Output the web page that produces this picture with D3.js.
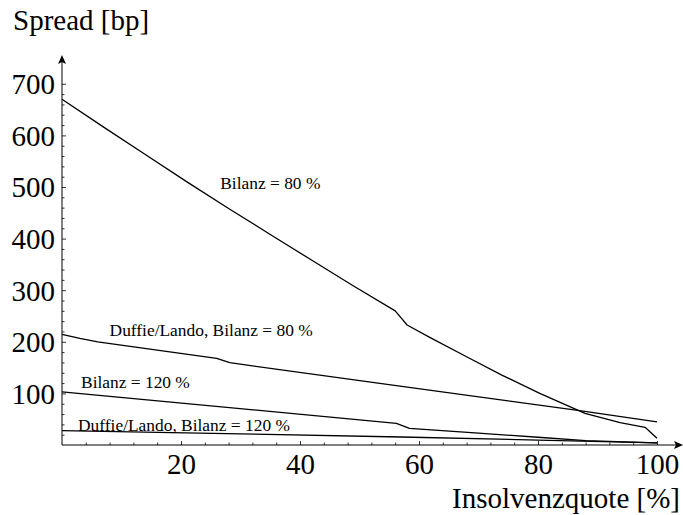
<!DOCTYPE html>
<html>
<head>
<meta charset="utf-8">
<script src="https://cdn.jsdelivr.net/npm/d3@7"></script>
<style>
  html, body { margin: 0; padding: 0; background: #fff; }
  svg { display: block; }
  text { font-family: "Liberation Serif", "Times New Roman", "DejaVu Serif", serif; fill: #000; }
</style>
</head>
<body>
<svg id="chart" width="683" height="515"></svg>
<script>
// Insolvency ratio (x, %) and spread (y, bp) for each curve
const bilanz80X = [0, 7, 14, 21, 28.2, 35, 42, 49, 56, 58, 61.8, 68, 74, 80.3, 87.9, 93.8, 98, 100];
const bilanz80Y = [670, 616, 563, 510, 457, 408, 358, 308, 260, 232.6, 208.7, 171, 135, 100, 61.4, 43.3, 34.2, 13];

const duffie80X = [0, 3, 6, 26, 28.2, 56.8, 87, 100];
const duffie80Y = [214.5, 206.5, 200, 168, 159.5, 114, 66.5, 45];

const bilanz120X = [0, 56.2, 58.4, 70, 80, 88, 100];
const bilanz120Y = [103, 42, 32.4, 23, 15, 8.5, 4];

const duffie120X = [0, 30, 57, 80, 100];
const duffie120Y = [28, 21.5, 15.5, 9.5, 4];

const xTickValues = [20, 40, 60, 80, 100];
const yTickValues = [100, 200, 300, 400, 500, 600, 700];

const seriesLabels = ["Bilanz = 80 %", "Duffie/Lando, Bilanz = 80 %", "Bilanz = 120 %", "Duffie/Lando, Bilanz = 120 %"];
const xTitle = "Insolvenzquote [%]";
const yTitle = "Spread [bp]";

const svg = d3.select("#chart");

const x = d3.scaleLinear().domain([0, 100]).range([62, 657]);
const y = d3.scaleLinear().domain([0, 700]).range([445, 83.8]);

const series = [
  { xs: bilanz80X, ys: bilanz80Y, label: seriesLabels[0], lx: 26.6, ly: 497 },
  { xs: duffie80X, ys: duffie80Y, label: seriesLabels[1], lx: 8.0, ly: 212 },
  { xs: bilanz120X, ys: bilanz120Y, label: seriesLabels[2], lx: 3.2, ly: 110 },
  { xs: duffie120X, ys: duffie120Y, label: seriesLabels[3], lx: 2.7, ly: 27 }
];

const serif = "'Liberation Serif', 'Times New Roman', serif";

// Minor ticks (drawn first so majors sit on top)
const xMinor = d3.range(4, 100, 4).filter(v => v % 20 !== 0);
const yMinor = d3.range(20, 700, 20).filter(v => v % 100 !== 0);

svg.append("g")
  .attr("transform", `translate(0,${y(0)})`)
  .call(d3.axisBottom(x).tickValues(xMinor).tickSize(-2.5).tickFormat(""))
  .call(g => g.select(".domain").remove())
  .call(g => g.selectAll("line").attr("stroke", "#000").attr("stroke-width", 0.8));

svg.append("g")
  .attr("transform", `translate(${x(0)},0)`)
  .call(d3.axisLeft(y).tickValues(yMinor).tickSize(-2.5).tickFormat(""))
  .call(g => g.select(".domain").remove())
  .call(g => g.selectAll("line").attr("stroke", "#000").attr("stroke-width", 0.8));

// Major ticks with labels
svg.append("g")
  .attr("transform", `translate(0,${y(0)})`)
  .call(d3.axisBottom(x).tickValues(xTickValues).tickSize(-4).tickPadding(8).tickFormat(d3.format("d")))
  .call(g => g.select(".domain").remove())
  .call(g => g.selectAll("line").attr("stroke", "#000").attr("stroke-width", 0.8))
  .call(g => g.selectAll("text")
    .attr("font-family", serif)
    .attr("font-size", 29).attr("fill", "#000").attr("dy", "0.71em"));

svg.append("g")
  .attr("transform", `translate(${x(0)},0)`)
  .call(d3.axisLeft(y).tickValues(yTickValues).tickSize(-4).tickPadding(7).tickFormat(d3.format("d")))
  .call(g => g.select(".domain").remove())
  .call(g => g.selectAll("line").attr("stroke", "#000").attr("stroke-width", 0.8))
  .call(g => g.selectAll("text")
    .attr("font-family", serif)
    .attr("font-size", 29).attr("fill", "#000").attr("dy", "0.34em"));

// Axis lines with arrowheads
const axisG = svg.append("g");
const x0 = x(0), y0 = y(0);
const xEnd = 683, yEnd = 55;
axisG.append("line").attr("x1", x0).attr("y1", y0).attr("x2", xEnd - 6).attr("y2", y0)
  .attr("stroke", "#000").attr("stroke-width", 1);
axisG.append("line").attr("x1", x0).attr("y1", y0).attr("x2", x0).attr("y2", yEnd + 6)
  .attr("stroke", "#000").attr("stroke-width", 1);
axisG.append("path")
  .attr("d", `M${xEnd},${y0} L${xEnd - 9},${y0 - 4} L${xEnd - 7},${y0} L${xEnd - 9},${y0 + 4} Z`)
  .attr("fill", "#000");
axisG.append("path")
  .attr("d", `M${x0},${yEnd} L${x0 - 4},${yEnd + 9} L${x0},${yEnd + 7} L${x0 + 4},${yEnd + 9} Z`)
  .attr("fill", "#000");

// Curves
const line = d3.line().x(d => x(d[0])).y(d => y(d[1]));
svg.append("g").selectAll("path")
  .data(series)
  .join("path")
  .attr("d", s => line(s.xs.map((v, i) => [v, s.ys[i]])))
  .attr("fill", "none")
  .attr("stroke", "#000")
  .attr("stroke-width", 1.3)
  .attr("stroke-linejoin", "round");

// Curve labels
svg.append("g").selectAll("text")
  .data(series)
  .join("text")
  .attr("x", s => x(s.lx))
  .attr("y", s => y(s.ly))
  .attr("font-family", serif)
  .attr("font-size", 17.4)
  .text(s => s.label);

// Axis titles
svg.append("text").attr("x", 13).attr("y", 30).attr("font-family", serif).attr("font-size", 29).text(yTitle);
svg.append("text").attr("x", 680).attr("y", 508).attr("text-anchor", "end").attr("font-family", serif).attr("font-size", 29).text(xTitle);
</script>
</body>
</html>
